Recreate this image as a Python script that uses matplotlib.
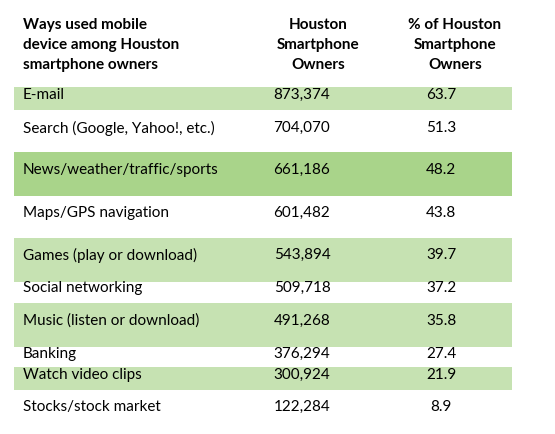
import matplotlib
matplotlib.use("Agg")
import matplotlib.pyplot as plt
from matplotlib.patches import Rectangle

categories = ["E-mail", "Search (Google, Yahoo!, etc.)", "News/weather/traffic/sports",
              "Maps/GPS navigation", "Games (play or download)", "Social networking",
              "Music (listen or download)", "Banking", "Watch video clips", "Stocks/stock market"]
owners = ["873,374", "704,070", "661,186", "601,482", "543,894", "509,718",
          "491,268", "376,294", "300,924", "122,284"]
percent = ["63.7", "51.3", "48.2", "43.8", "39.7", "37.2", "35.8", "27.4", "21.9", "8.9"]
headers = ["Ways used mobile\ndevice among Houston\nsmartphone owners",
           "Houston\nSmartphone\nOwners", "% of Houston\nSmartphone\nOwners"]

# layout (pixels)
bounds = [87, 110, 152, 196, 238, 282, 303, 347, 367, 390, 434]
text_y = [95, 128, 170, 213, 255, 288, 321, 354, 375, 407]
fills = ["#c6e2b2", None, "#a9d48a", None, "#c6e2b2", None, "#c6e2b2", None, "#c6e2b2", None]

plt.rcParams['font.family'] = ['Lato', 'DejaVu Sans']
fig = plt.figure(figsize=(5.55, 4.34), dpi=100)
ax = fig.add_axes([0, 0, 1, 1])
ax.set_xlim(0, 555)
ax.set_ylim(434, 0)
ax.axis('off')

fs = 11
for i, cat in enumerate(categories):
    if fills[i]:
        ax.add_patch(Rectangle((14, bounds[i]), 498, bounds[i + 1] - bounds[i],
                               color=fills[i], lw=0))
    ax.text(23, text_y[i], cat, fontsize=fs, va='center', ha='left', color='black')
    ax.text(302, text_y[i], owners[i], fontsize=fs, va='center', ha='center')
    ax.text(441, text_y[i], percent[i], fontsize=fs, va='center', ha='center')

for x, ha, h in [(23, 'left', headers[0]), (318, 'center', headers[1]), (455, 'center', headers[2])]:
    ax.text(x, 45, h, fontsize=fs, fontweight='bold', va='center', ha=ha, linespacing=1.55)

fig.savefig("out.png", dpi=100)
